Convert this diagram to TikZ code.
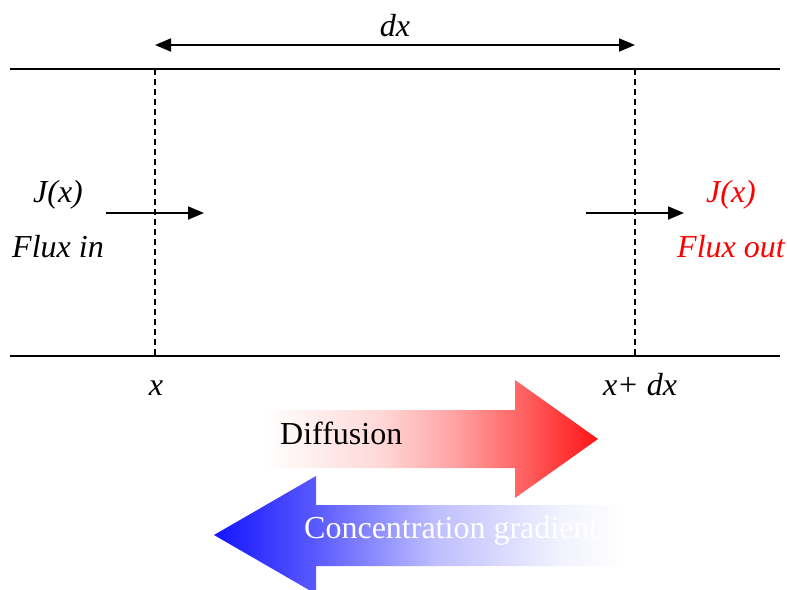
\documentclass[tikz,border=0pt]{standalone}
\usepackage{fontspec}
\setmainfont{Liberation Serif}
\usetikzlibrary{arrows.meta}
\pgfdeclarehorizontalshading{diffshade}{100bp}{
  rgb(0bp)=(1,1,1); rgb(25bp)=(1,1,1);
  rgb(42.5bp)=(1,0.843,0.843); rgb(53bp)=(1,0.647,0.647);
  rgb(62.5bp)=(1,0.412,0.412); rgb(75bp)=(1,0.08,0.08); rgb(100bp)=(1,0.08,0.08)}
\pgfdeclarehorizontalshading{concshade}{100bp}{
  rgb(0bp)=(0.08,0.08,1); rgb(25bp)=(0.08,0.08,1);
  rgb(37.5bp)=(0.353,0.353,1); rgb(52bp)=(0.745,0.745,1);
  rgb(67.5bp)=(0.95,0.95,1); rgb(75bp)=(1,1,1); rgb(100bp)=(1,1,1)}
\begin{document}
\begin{tikzpicture}[x=1pt,y=-1pt,
  lbl/.style={font=\fontsize{32}{38}\selectfont\itshape, inner sep=0pt, anchor=base},
  txt/.style={font=\fontsize{32}{38}\selectfont, inner sep=0pt, anchor=base west},
  wall/.style={line width=1.8pt},
  cut/.style={line width=1.5pt, dash pattern=on 6pt off 4pt},
  flux/.style={line width=1.8pt, -{Triangle[length=16pt,width=13pt]}},
  span/.style={line width=1.8pt, {Triangle[length=16pt,width=13pt]}-{Triangle[length=16pt,width=13pt]}}]
\useasboundingbox (0,0) rectangle (787,589);
\clip (0,0) rectangle (787,589);
\fill[white] (0,0) rectangle (787,589);
% walls
\coordinate (tl) at (10,69);  \coordinate (tr) at (780,69);
\coordinate (bl) at (10,356); \coordinate (br) at (780,356);
\draw[wall] (tl) -- (tr);
\draw[wall] (bl) -- (br);
% cuts
\coordinate (c1t) at (155,69); \coordinate (c1b) at (155,356);
\coordinate (c2t) at (635,69); \coordinate (c2b) at (635,356);
\draw[cut] (c1t) -- (c1b);
\draw[cut] (c2t) -- (c2b);
% dx
\coordinate (d1) at (155,45); \coordinate (d2) at (635,45);
\draw[span] (d1) -- (d2);
\node[lbl] (dx) at (395,36) {dx};
% flux arrows
\coordinate (f1a) at (106,213); \coordinate (f1b) at (204,213);
\coordinate (f2a) at (586,213); \coordinate (f2b) at (684,213);
\draw[flux] (f1a) -- (f1b);
\draw[flux] (f2a) -- (f2b);
\node[lbl] (jin) at (58,202) {J(x)};
\node[lbl] (fin) at (58,257) {Flux in};
\node[lbl, text=red] (jout) at (731,202) {J(x)};
\node[lbl, text=red] (fout) at (731,257) {Flux out};
\node[lbl] (xl) at (156,395) {x};
\node[lbl] (xr) at (640,395) {x+ dx};
% diffusion arrow
\shade[shading=diffshade]
  (265,410) -- (515,410) -- (515,380) -- (598,439) -- (515,498) -- (515,468) -- (265,468) -- cycle;
\node[txt] (diff) at (280,444) {Diffusion};
% concentration gradient arrow
\shade[shading=concshade]
  (623,505) -- (316,505) -- (316,476) -- (214,535) -- (316,594) -- (316,566) -- (623,566) -- cycle;
\node[txt, text=white] (conc) at (304,538) {Concentration gradient};
\end{tikzpicture}
\end{document}
